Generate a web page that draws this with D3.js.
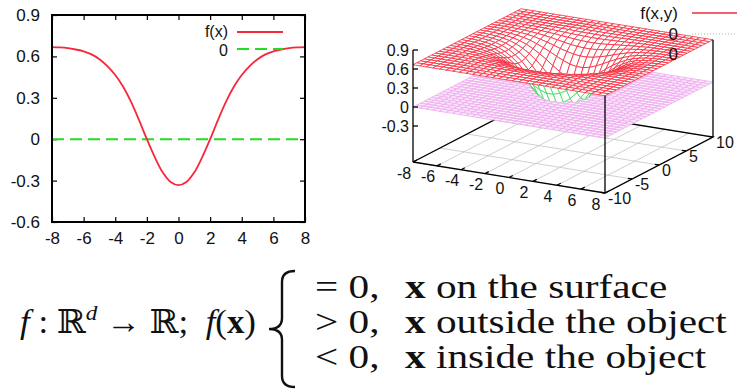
<!DOCTYPE html>
<html>
<head>
<meta charset="utf-8">
<script src="https://cdn.jsdelivr.net/npm/d3@7"></script>
<style>
  body { margin: 0; background: #fff; }
  svg { display: block; }
</style>
</head>
<body>
<svg id="chart" width="737" height="389"></svg>
<script>
// left panel: f(x), every 0.5
const curveX = [-8,-7.5,-7,-6.5,-6,-5.5,-5,-4.5,-4,-3.5,-3,-2.5,-2,-1.5,-1,-0.5,0,
                0.5,1,1.5,2,2.5,3,3.5,4,4.5,5,5.5,6,6.5,7,7.5,8];
const curveY = [0.667,0.665,0.66,0.65,0.637,0.615,0.58,0.53,0.465,0.38,0.27,0.14,0.0,-0.13,-0.24,-0.31,-0.333,
                -0.31,-0.24,-0.13,0.0,0.14,0.27,0.38,0.465,0.53,0.58,0.615,0.637,0.65,0.66,0.665,0.667];
const zeroY = 0;
const xTicks2d = [-8,-6,-4,-2,0,2,4,6,8];
const yTicks2d = [-0.6,-0.3,0,0.3,0.6,0.9];

// right panel: radial profile of f(x,y) (same shape), z=0 plane
const radius = [0,0.5,1,1.5,2,2.5,3,3.5,4,4.5,5,5.5,6,6.5,7,7.5,8,9,10,11,13];
const radial = [-0.333,-0.31,-0.24,-0.13,0.0,0.14,0.27,0.38,0.465,0.53,0.58,0.615,0.637,0.65,0.66,0.665,0.667,0.667,0.667,0.667,0.667];
const gridN = 30;
const xTicks3d = [-8,-6,-4,-2,0,2,4,6,8];
const yTicks3d = [-10,-5,0,5,10];
const zTicks3d = [-0.3,0,0.3,0.6,0.9];

// formula rows
const relations = ["= 0,", "> 0,", "< 0,"];
const meanings = ["on the surface", "outside the object", "inside the object"];

const svg = d3.select("#chart");
const sans = "'Liberation Sans', Arial, Helvetica, sans-serif";
const serif = "'Liberation Serif', 'Times New Roman', 'DejaVu Serif', serif";
const red = "#f5283c";
const green = "#22dd22";
const fmt = d => String(d);

// ---------- left 2D plot ----------
const box = {l: 52, r: 305, t: 15, b: 222};
const x = d3.scaleLinear().domain([-8, 8]).range([box.l, box.r]);
const y = d3.scaleLinear().domain([-0.6, 0.9]).range([box.b, box.t]);

const plot = svg.append("g");

function styleAxis(g) {
  g.select(".domain").remove();
  g.selectAll(".tick line").attr("stroke", "#000").attr("stroke-width", 1.2);
  g.selectAll(".tick text").attr("font-family", sans).attr("font-size", 17).attr("fill", "#111");
}

plot.append("g").attr("transform", `translate(0,${box.b})`)
  .call(d3.axisBottom(x).tickValues(xTicks2d).tickSize(-5).tickPadding(10).tickFormat(fmt))
  .call(styleAxis);
plot.append("g").attr("transform", `translate(0,${box.t})`)
  .call(d3.axisTop(x).tickValues(xTicks2d).tickSize(-5).tickFormat(""))
  .call(styleAxis);
plot.append("g").attr("transform", `translate(${box.l},0)`)
  .call(d3.axisLeft(y).tickValues(yTicks2d).tickSize(-5).tickPadding(12).tickFormat(fmt))
  .call(styleAxis);
plot.append("g").attr("transform", `translate(${box.r},0)`)
  .call(d3.axisRight(y).tickValues(yTicks2d).tickSize(-5).tickFormat(""))
  .call(styleAxis);

plot.append("line")
  .attr("x1", x(-8)).attr("x2", x(8)).attr("y1", y(zeroY)).attr("y2", y(zeroY))
  .attr("stroke", green).attr("stroke-width", 2).attr("stroke-dasharray", "12,6");

const line = d3.line().x((d, i) => x(curveX[i])).y(d => y(d)).curve(d3.curveCatmullRom);
plot.append("path").attr("d", line(curveY))
  .attr("fill", "none").attr("stroke", red).attr("stroke-width", 1.8);

plot.append("rect")
  .attr("x", box.l).attr("y", box.t).attr("width", box.r - box.l).attr("height", box.b - box.t)
  .attr("fill", "none").attr("stroke", "#000").attr("stroke-width", 2);

// legend
const key = plot.append("g").attr("font-family", sans).attr("font-size", 16).attr("fill", "#111");
key.append("text").attr("x", 228).attr("y", 31).attr("dy", "0.35em").attr("text-anchor", "end").text("f(x)");
key.append("line").attr("x1", 237).attr("x2", 283).attr("y1", 32).attr("y2", 32)
  .attr("stroke", red).attr("stroke-width", 1.8);
key.append("text").attr("x", 228).attr("y", 50).attr("dy", "0.35em").attr("text-anchor", "end").text("0");
key.append("line").attr("x1", 237).attr("x2", 283).attr("y1", 49).attr("y2", 49)
  .attr("stroke", green).attr("stroke-width", 2).attr("stroke-dasharray", "12,6");

// ---------- right 3D plot ----------
const xs3 = d3.scaleLinear().domain([-8, 8]).range([0, 1]);
const ys3 = d3.scaleLinear().domain([-10, 10]).range([0, 1]);
const zs3 = d3.scaleLinear().domain([-0.3, 0.9]).range([126, 50]);
const zBase = zs3.invert(162);
const surf = d3.scaleLinear().domain(radius).range(radial).clamp(true);
const gx = d3.scaleLinear().domain([0, gridN - 1]).range([-8, 8]);
const gy = d3.scaleLinear().domain([0, gridN - 1]).range([-10, 10]);

function P(px, py, pz) {
  const a = xs3(px), b = ys3(py);
  return [413 + a * 192 + b * 108, zs3(pz) + a * 31 - b * 56];
}
function depth(px, py, pz) {
  return -0.0625 * px + 0.0866 * py - 0.183 * pz;
}
const fz = (px, py) => surf(Math.hypot(px, py));

const view = svg.append("g");

// base grid + border
const base = view.append("g");
xTicks3d.forEach(v => {
  const a = P(v, -10, zBase), b = P(v, 10, zBase);
  base.append("line").attr("x1", a[0]).attr("y1", a[1]).attr("x2", b[0]).attr("y2", b[1])
    .attr("stroke", "#c4c4c4").attr("stroke-width", 0.8);
});
yTicks3d.forEach(v => {
  const a = P(-8, v, zBase), b = P(8, v, zBase);
  base.append("line").attr("x1", a[0]).attr("y1", a[1]).attr("x2", b[0]).attr("y2", b[1])
    .attr("stroke", "#c4c4c4").attr("stroke-width", 0.8);
});
const corners = [[-8, -10], [8, -10], [8, 10], [-8, 10], [-8, -10]].map(c => P(c[0], c[1], zBase));
base.append("path").attr("d", d3.line()(corners))
  .attr("fill", "none").attr("stroke", "#000").attr("stroke-width", 1.3);

// mesh quads (surface and z=0 plane), painter's order
const quads = [];
for (let i = 0; i < gridN - 1; i++) {
  for (let j = 0; j < gridN - 1; j++) {
    const pts = [[gx(i), gy(j)], [gx(i + 1), gy(j)], [gx(i + 1), gy(j + 1)], [gx(i), gy(j + 1)]];
    ["surface", "plane"].forEach(kind => {
      const p3 = pts.map(p => [p[0], p[1], kind === "surface" ? fz(p[0], p[1]) : 0]);
      const p2 = p3.map(p => P(p[0], p[1], p[2]));
      const area = d3.polygonArea(p2);
      quads.push({
        kind, p2,
        back: area < 0,
        depth: d3.mean(p3, p => depth(p[0], p[1], p[2]))
      });
    });
  }
}
quads.sort((a, b) => b.depth - a.depth);

view.append("g").selectAll("path").data(quads).join("path")
  .attr("d", d => "M" + d.p2.map(p => p.join(",")).join("L") + "Z")
  .attr("fill", d => d.kind === "plane" ? "#fcecfc" : "#fff")
  .attr("stroke", d => d.kind === "plane" ? "#eeaaee" : (d.back ? "#33e055" : red))
  .attr("stroke-width", 0.8)
  .attr("stroke-linejoin", "round");

// vertical border lines
const verts = view.append("g").attr("stroke", "#000").attr("stroke-width", 1.3);
[[-8, -10, 0.9], [8, -10, fz(8, -10)], [8, 10, fz(8, 10)]].forEach(v => {
  const a = P(v[0], v[1], zBase), b = P(v[0], v[1], v[2]);
  verts.append("line").attr("x1", a[0]).attr("y1", a[1]).attr("x2", b[0]).attr("y2", b[1]);
});

// ticks and labels
const t3 = view.append("g").attr("font-family", sans).attr("font-size", 16).attr("fill", "#111");
zTicks3d.forEach(v => {
  const p = P(-8, -10, v);
  verts.append("line").attr("x1", p[0]).attr("x2", p[0] + 5).attr("y1", p[1]).attr("y2", p[1]);
  t3.append("text").attr("x", p[0] - 4).attr("y", p[1]).attr("dy", "0.35em")
    .attr("text-anchor", "end").text(fmt(v));
});
xTicks3d.forEach(v => {
  const a = P(v, -10, zBase), b = P(v, -9.3, zBase);
  verts.append("line").attr("x1", a[0]).attr("y1", a[1]).attr("x2", b[0]).attr("y2", b[1]);
  t3.append("text").attr("x", a[0] - 9).attr("y", a[1] + 11).attr("dy", "0.35em")
    .attr("text-anchor", "middle").text(fmt(v));
});
yTicks3d.forEach(v => {
  const a = P(8, v, zBase), b = P(7.65, v, zBase);
  verts.append("line").attr("x1", a[0]).attr("y1", a[1]).attr("x2", b[0]).attr("y2", b[1]);
  t3.append("text").attr("x", a[0] + 3).attr("y", a[1] + 5).attr("dy", "0.35em")
    .attr("text-anchor", "start").text(fmt(v));
});

// 3D legend
const key3 = view.append("g").attr("font-family", sans).attr("font-size", 17).attr("fill", "#111");
key3.append("text").attr("x", 678).attr("y", 13).attr("dy", "0.35em").attr("text-anchor", "end").text("f(x,y)");
key3.append("line").attr("x1", 692).attr("x2", 740).attr("y1", 13).attr("y2", 13)
  .attr("stroke", red).attr("stroke-width", 1.5);
key3.append("text").attr("x", 678).attr("y", 34).attr("dy", "0.35em").attr("text-anchor", "end").text("0");
key3.append("line").attr("x1", 692).attr("x2", 740).attr("y1", 34).attr("y2", 34)
  .attr("stroke", "#9cc49c").attr("stroke-width", 1.2).attr("stroke-dasharray", "1,2");
key3.append("text").attr("x", 678).attr("y", 54).attr("dy", "0.35em").attr("text-anchor", "end").text("0");

// ---------- formula ----------
const sx = 1.25;
const eq = svg.append("g").attr("transform", `scale(${sx},1)`)
  .attr("font-family", serif).attr("font-size", 33).attr("fill", "#111");
const rowY = [298, 333, 368];
const X = v => v / sx;

// left-hand side, fitted between x=20 and x=256
const lhsG = svg.append("g").attr("font-family", serif).attr("font-size", 33).attr("fill", "#111");
const lhs = lhsG.append("text").attr("x", 0).attr("y", 0);
lhs.append("tspan").attr("font-style", "italic").text("f");
lhs.append("tspan").text(" : \u211D");
lhs.append("tspan").attr("font-size", 22).attr("font-style", "italic").attr("dy", -13).text("d");
lhs.append("tspan").attr("dy", 13).text(" \u2192 \u211D;\u2002");
lhs.append("tspan").attr("font-style", "italic").text("f");
lhs.append("tspan").text("(");
lhs.append("tspan").attr("font-weight", "bold").text("x");
lhs.append("tspan").text(")");
const lw = lhs.node().getBBox().width;
lhsG.attr("transform", `translate(20,${rowY[1]}) scale(${236 / lw},1)`);

// brace
const bx = 295, bw = 26, y0 = 271, y1 = 387, ym = (y0 + y1) / 2, r = 11;
const bs = bx - bw / 2;
svg.append("path")
  .attr("d", `M${bx},${y0} Q${bs},${y0} ${bs},${y0 + r} L${bs},${ym - r} Q${bs},${ym} ${bx - bw},${ym}` +
             ` Q${bs},${ym} ${bs},${ym + r} L${bs},${y1 - r} Q${bs},${y1} ${bx},${y1}`)
  .attr("fill", "none").attr("stroke", "#111").attr("stroke-width", 2.4);

relations.forEach((rel, i) => {
  eq.append("text").attr("x", X(315)).attr("y", rowY[i]).text(rel);
  const t = eq.append("text").attr("x", X(405)).attr("y", rowY[i]);
  t.append("tspan").attr("font-weight", "bold").text("x");
  t.append("tspan").text(" " + meanings[i]);
});
</script>
</body>
</html>
